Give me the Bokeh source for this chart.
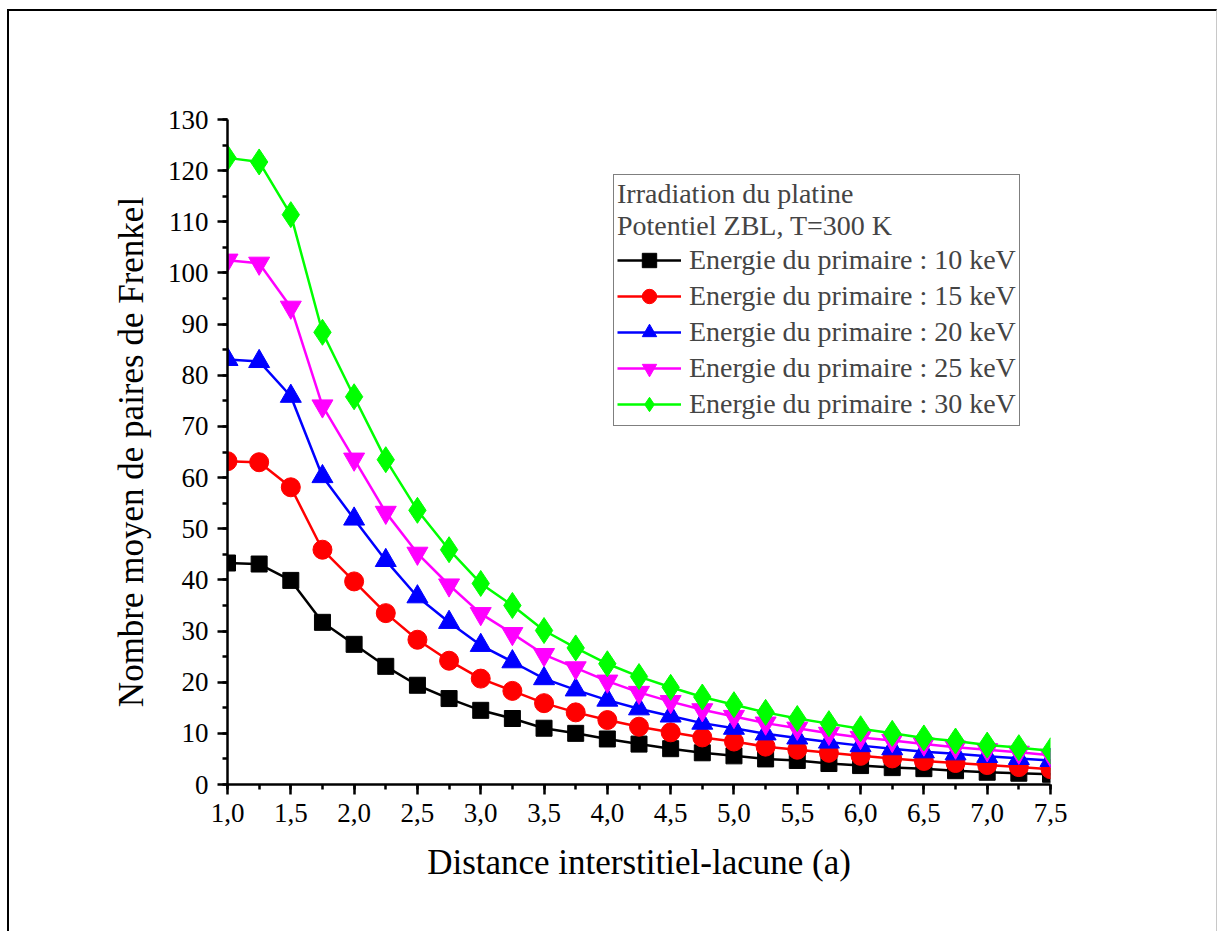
from bokeh.plotting import figure
from bokeh.models import (Range1d, SingleIntervalTicker, CustomJSTickFormatter,
                          Legend, LegendItem, InlineStyleSheet)
from bokeh.embed import file_html
from bokeh.resources import INLINE

distance = [1.0, 1.25, 1.5, 1.75, 2.0, 2.25, 2.5, 2.75, 3.0, 3.25, 3.5, 3.75, 4.0,
            4.25, 4.5, 4.75, 5.0, 5.25, 5.5, 5.75, 6.0, 6.25, 6.5, 6.75, 7.0, 7.25, 7.5]

e10 = [43.3, 43.1, 39.9, 31.7, 27.4, 23.1, 19.4, 16.8, 14.5, 12.9, 11.0, 10.0, 8.9,
       7.9, 7.0, 6.2, 5.6, 5.0, 4.7, 4.1, 3.7, 3.3, 3.1, 2.7, 2.4, 2.2, 2.0]
e15 = [63.2, 63.0, 58.1, 45.9, 39.7, 33.5, 28.3, 24.2, 20.7, 18.3, 15.9, 14.1, 12.6,
       11.3, 10.2, 9.2, 8.4, 7.4, 6.8, 6.2, 5.6, 5.1, 4.6, 4.2, 3.8, 3.4, 3.0]
e20 = [83.1, 82.7, 75.9, 60.2, 51.9, 43.8, 36.7, 31.7, 27.2, 24.0, 20.7, 18.5, 16.5,
       14.8, 13.4, 12.0, 11.0, 9.9, 9.1, 8.3, 7.6, 7.0, 6.4, 6.0, 5.5, 5.1, 4.7]
e25 = [102.5, 101.9, 93.3, 74.0, 63.6, 53.2, 45.2, 39.0, 33.4, 29.5, 25.4, 22.8, 20.2,
       18.0, 16.2, 14.6, 13.3, 12.0, 11.0, 10.0, 9.2, 8.6, 7.9, 7.3, 6.8, 6.3, 5.7]
e30 = [122.5, 121.7, 111.4, 88.4, 75.8, 63.5, 53.6, 45.9, 39.3, 35.0, 30.1, 26.7, 23.6,
       21.1, 19.0, 17.1, 15.6, 14.1, 12.9, 11.9, 10.9, 10.0, 9.1, 8.5, 7.7, 7.2, 6.6]

series_labels = ["Energie du primaire : 10 keV", "Energie du primaire : 15 keV",
                 "Energie du primaire : 20 keV", "Energie du primaire : 25 keV",
                 "Energie du primaire : 30 keV"]
legend_title = "Irradiation du platine\nPotentiel ZBL, T=300 K"
x_label = "Distance interstitiel-lacune (a)"
y_label = "Nombre moyen de paires de Frenkel"

FONT = "Liberation Serif"

page_frame = InlineStyleSheet(css="""
:host { position: relative; }
:host::after {
  content: "";
  position: absolute;
  left: 7px; top: 9px; width: 1210px; height: 922px;
  border-left: 2.5px solid black;
  border-top: 2.5px solid black;
  border-right: 1.5px solid #c8c8c8;
  pointer-events: none;
  box-sizing: border-box;
}
""")

p = figure(width=1220, height=931, output_backend="svg", toolbar_location=None,
           x_range=Range1d(1.0, 7.5), y_range=Range1d(0, 130),
           min_border_left=227, min_border_right=170, min_border_top=119,
           min_border_bottom=147, stylesheets=[page_frame])
p.outline_line_color = None
p.xgrid.visible = False
p.ygrid.visible = False

p.xaxis.ticker = SingleIntervalTicker(interval=0.5, num_minor_ticks=2)
p.yaxis.ticker = SingleIntervalTicker(interval=10, num_minor_ticks=2)
p.xaxis.formatter = CustomJSTickFormatter(code="return tick.toFixed(1).replace('.', ',');")

for ax in (p.xaxis, p.yaxis):
    ax.axis_line_width = 2.5
    ax.axis_line_color = "black"
    ax.major_tick_line_width = 2.5
    ax.minor_tick_line_width = 2.5
    ax.major_tick_line_color = "black"
    ax.minor_tick_line_color = "black"
    ax.major_tick_in = 0
    ax.minor_tick_in = 0
    ax.major_tick_out = 10
    ax.minor_tick_out = 5
    ax.major_label_text_font = FONT
    ax.major_label_text_font_size = "27px"
    ax.major_label_text_color = "black"
    ax.axis_label_text_font = FONT
    ax.axis_label_text_font_size = "35px"
    ax.axis_label_text_font_style = "normal"
    ax.axis_label_text_color = "black"
    ax.major_label_standoff = 9

p.xaxis.axis_label = x_label
p.yaxis.axis_label = y_label
p.xaxis.axis_label_standoff = 18
p.yaxis.axis_label_standoff = 14

colors = ["black", "red", "blue", "magenta", "lime"]
markers = ["square", "circle", "triangle", "inverted_triangle", "diamond"]
sizes = [16, 19, 21, 21, 26]
data = [e10, e15, e20, e25, e30]

items = []
for ys, c, m, s, lab in zip(data, colors, markers, sizes, series_labels):
    ln = p.line(distance, ys, line_color=c, line_width=2.5)
    sc = p.scatter(distance, ys, marker=m, size=s, fill_color=c, line_color=c)
    items.append(LegendItem(label=lab, renderers=[ln, sc]))

legend = Legend(items=items, location=(386, 358), title=legend_title,
                title_text_font=FONT, title_text_font_size="28px",
                title_text_font_style="normal", title_standoff=0,
                label_text_font=FONT, label_text_font_size="28px",
                label_height=35, glyph_height=36, glyph_width=64,
                label_standoff=8, spacing=0, padding=3, margin=0,
                border_line_color="black", border_line_width=1.2,
                background_fill_alpha=1.0)
p.add_layout(legend, "center")

out = file_html(p, INLINE)
open("out.html", "w").write(out)
